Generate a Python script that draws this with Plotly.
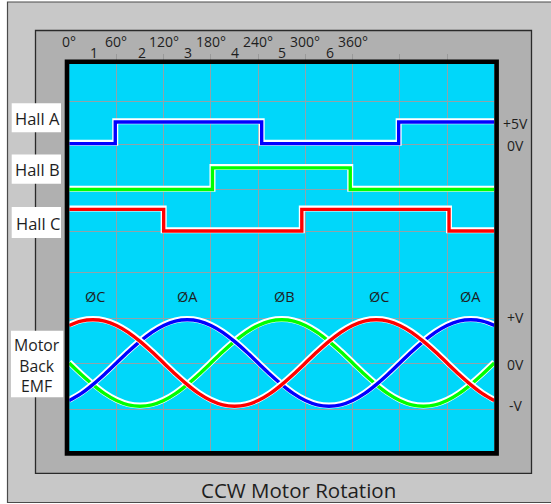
import plotly.graph_objects as go

W, H = 551, 504

# ---------------- data ----------------
angle_labels = ["0°", "60°", "120°", "180°", "240°", "300°", "360°"]
angle_label_pos = [0, 60, 120, 180, 240, 300, 360]
step_labels = ["1", "2", "3", "4", "5", "6"]
step_label_pos = [31, 93, 151, 211, 270, 331]

# Hall sensor logic levels (0 = 0V, 1 = +5V), as steps starting at each edge angle
hall_a_edges = [0, 58.5, 244.5, 418.5, 540]
hall_a_levels = [0, 1, 0, 1, 1]
hall_b_edges = [0, 182, 357, 540]
hall_b_levels = [0, 1, 0, 0]
hall_c_edges = [0, 120, 295.5, 482.5, 540]
hall_c_levels = [1, 0, 1, 0, 0]

# Motor back EMF, normalised (+V = 1, -V = -1), sampled every 15 degrees
emf_angles = [0, 15, 30, 45, 60, 75, 90, 105, 120, 135, 150, 165, 180, 195, 210,
              225, 240, 255, 270, 285, 300, 315, 330, 345, 360, 375, 390, 405,
              420, 435, 450, 465, 480, 495, 510, 525, 540]
emf_phase_c = [0.87, 0.97, 1.0, 0.97, 0.87, 0.71, 0.5, 0.26, 0.0, -0.26, -0.5, -0.71,
               -0.87, -0.97, -1.0, -0.97, -0.87, -0.71, -0.5, -0.26, 0.0, 0.26, 0.5,
               0.71, 0.87, 0.97, 1.0, 0.97, 0.87, 0.71, 0.5, 0.26, 0.0, -0.26, -0.5,
               -0.71, -0.87]
emf_phase_a = [-0.87, -0.71, -0.5, -0.26, 0.0, 0.26, 0.5, 0.71, 0.87, 0.97, 1.0, 0.97,
               0.87, 0.71, 0.5, 0.26, 0.0, -0.26, -0.5, -0.71, -0.87, -0.97, -1.0,
               -0.97, -0.87, -0.71, -0.5, -0.26, 0.0, 0.26, 0.5, 0.71, 0.87, 0.97,
               1.0, 0.97, 0.87]
emf_phase_b = [0.0, -0.26, -0.5, -0.71, -0.87, -0.97, -1.0, -0.97, -0.87, -0.71, -0.5,
               -0.26, 0.0, 0.26, 0.5, 0.71, 0.87, 0.97, 1.0, 0.97, 0.87, 0.71, 0.5,
               0.26, 0.0, -0.26, -0.5, -0.71, -0.87, -0.97, -1.0, -0.97, -0.87,
               -0.71, -0.5, -0.26, 0.0]

phase_labels = ["ØC", "ØA", "ØB", "ØC", "ØA"]
phase_label_pos = [33, 150, 274, 393, 510]

hall_names = ["Hall A", "Hall B", "Hall C"]
emf_name = "Motor<br>Back<br>EMF"
right_labels = ["+5V", "0V", "+V", "0V", "-V"]
title_text = "CCW Motor Rotation"

# ---------------- style / geometry (pixel based) ----------------
FONT = "Open Sans"
TXT = "#1e1e1e"
CYAN = "#00d7fa"
LIGHT = "#c8c8c8"
DARK = "#b0b0b0"
GRID = "#8fa3aa"

PX_L, PX_R, PX_T, PX_B = 69.2, 494.3, 64.0, 451.0   # plot area (cyan)
HALL_LOW = [143.6, 189.5, 231.0]   # y pixel of the 0V level of each Hall trace
HALL_STEP = 21.6
EMF_MID, EMF_AMP = 363.0, 43.2
HALO = -0.8

def px(x):
    return x / W

def py(y):
    return 1 - y / H

fig = go.Figure()

def halo_line(xs, ys, color, shape, width=3.4):
    fig.add_trace(go.Scatter(x=xs, y=[v + HALO for v in ys], mode="lines",
                             line=dict(color="white", width=width + 2.6, shape=shape),
                             hoverinfo="skip", showlegend=False))
    fig.add_trace(go.Scatter(x=xs, y=ys, mode="lines",
                             line=dict(color=color, width=width, shape=shape),
                             showlegend=False))

hall_sets = [(hall_a_edges, hall_a_levels, "#0000ff"),
             (hall_b_edges, hall_b_levels, "#00ff00"),
             (hall_c_edges, hall_c_levels, "#ff0000")]
for (edges, levels, color), low in zip(hall_sets, HALL_LOW):
    halo_line(edges, [low - HALL_STEP * v for v in levels], color, "hv")

for vals, color in [(emf_phase_b, "#00ff00"), (emf_phase_a, "#0000ff"), (emf_phase_c, "#ff0000")]:
    halo_line(emf_angles, [EMF_MID - EMF_AMP * v for v in vals], color, "spline")

shapes = []
# outer light box
shapes.append(dict(type="rect", xref="paper", yref="paper", layer="below",
                   x0=px(7.5), x1=px(570), y0=py(2), y1=py(502.5),
                   fillcolor=LIGHT, line=dict(color="#4a4a4a", width=1.2)))
# inner dark box
shapes.append(dict(type="rect", xref="paper", yref="paper", layer="below",
                   x0=px(35.5), x1=px(531.5), y0=py(30.5), y1=py(473.3),
                   fillcolor=DARK, line=dict(color="#2a2a2a", width=1.3)))
# cyan plot background
shapes.append(dict(type="rect", xref="paper", yref="paper", layer="below",
                   x0=px(PX_L), x1=px(PX_R), y0=py(PX_T), y1=py(PX_B),
                   fillcolor=CYAN, line=dict(width=0)))
# black frame
shapes.append(dict(type="rect", xref="paper", yref="paper", layer="above",
                   x0=px(67.0), x1=px(496.6), y0=py(61.8), y1=py(453.4),
                   fillcolor="rgba(0,0,0,0)", line=dict(color="black", width=4.6)))
# white label boxes
for (y0, y1) in [(103.3, 132.3), (154.5, 183.8), (207.0, 238.0)]:
    shapes.append(dict(type="rect", xref="paper", yref="paper", layer="above",
                       x0=px(11.7), x1=px(61), y0=py(y0), y1=py(y1),
                       fillcolor="white", line=dict(width=0)))
shapes.append(dict(type="rect", xref="paper", yref="paper", layer="above",
                   x0=px(11.0), x1=px(63.3), y0=py(330.7), y1=py(397.3),
                   fillcolor="white", line=dict(width=0)))

ann = []
def text(x, y, s, size, xref="paper", yref="paper"):
    ann.append(dict(x=x, y=y, xref=xref, yref=yref, text=s, showarrow=False,
                    xanchor="center", yanchor="middle",
                    font=dict(family=FONT, size=size, color=TXT)))

for s, a in zip(angle_labels, angle_label_pos):
    text(a, py(41.0), s, 14, xref="x")
for s, a in zip(step_labels, step_label_pos):
    text(a, py(53.0), s, 14, xref="x")
for s, a in zip(phase_labels, phase_label_pos):
    text(a, 296.0, s, 14.5, xref="x", yref="y")
for s, y in zip(hall_names, [118.5, 169.5, 223.0]):
    text(px(37.5), py(y), s, 16.5)
text(px(37.2), py(365.0), emf_name, 15.8)
for s, y in zip(right_labels, [123.5, 145.0, 317.0, 364.0, 405.0]):
    text(px(515.5), py(y), s, 14)
text(px(298), py(489.5), title_text, 20.5)

fig.update_layout(
    width=W, height=H,
    margin=dict(l=0, r=0, t=0, b=0),
    paper_bgcolor="white",
    plot_bgcolor="rgba(0,0,0,0)",
    showlegend=False,
    shapes=shapes,
    annotations=ann,
    xaxis=dict(domain=[px(PX_L), px(PX_R)], range=[0, 540], side="top",
               tickvals=[60, 120, 180, 240, 300, 360, 420, 480],
               showgrid=True, gridcolor=GRID, gridwidth=1,
               ticks="outside", ticklen=9, tickcolor="#999999", tickwidth=1,
               showticklabels=False, zeroline=False, showline=False, fixedrange=True),
    yaxis=dict(domain=[py(PX_B), py(PX_T)], range=[PX_B, PX_T],
               tickvals=[101.3, 144.0, 189.3, 231.7, 272.5, 318.3, 363.3, 409.3],
               showgrid=True, gridcolor=GRID, gridwidth=1,
               ticks="", showticklabels=False, zeroline=False, showline=False,
               fixedrange=True),
)

fig.write_html(
    "out.html",
    config={"displayModeBar": False},
    post_script="document.body.style.margin='0';document.body.style.padding='0';"
                "document.documentElement.style.overflow='hidden';",
)
